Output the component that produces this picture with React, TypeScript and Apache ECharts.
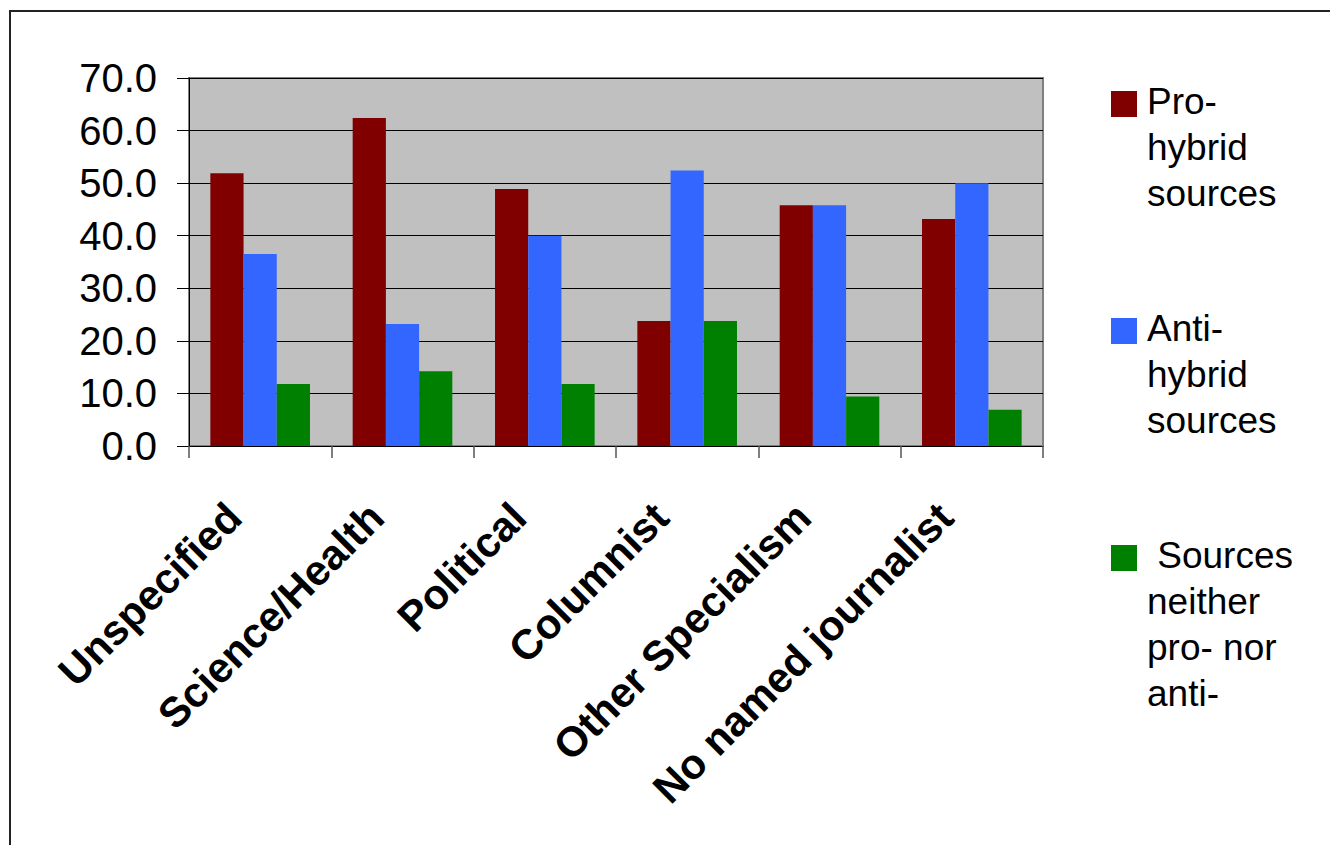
import React, { useEffect, useRef } from "react";
import * as echarts from "echarts";

const categories = ["Unspecified", "Science/Health", "Political", "Columnist", "Other Specialism", "No named journalist"];
const seriesNames = ["Pro-\nhybrid\nsources", "Anti-\nhybrid\nsources", " Sources\nneither\npro- nor\nanti-"];
const proHybrid = [51.9, 62.4, 48.9, 23.8, 45.8, 43.2];
const antiHybrid = [36.5, 23.2, 40.0, 52.4, 45.8, 50.0];
const neither = [11.8, 14.2, 11.8, 23.8, 9.4, 6.9];
const colors = ["#800000", "#3366ff", "#008000"];
const yTicks = { min: 0, max: 70, interval: 10 };

const FONT = '"Liberation Sans", Arial, sans-serif';
const LH = 46;

function iconPath(lines: number) {
  const H = lines * LH;
  return `path://M0,0L0,0M0,13H26V39H0ZM26,${H}L26,${H}`;
}

export default function App() {
  const ref = useRef<HTMLDivElement>(null);
  useEffect(() => {
    if (!ref.current) return;
    const chart = echarts.init(ref.current, null, { renderer: "svg" });
    const dataSets = [proHybrid, antiHybrid, neither];
    const legendTops = [78, 305, 532];
    const lineCounts = seriesNames.map((n) => n.split("\n").length);
    chart.setOption({
      animation: false,
      backgroundColor: "#ffffff",
      graphic: [
        {
          type: "rect",
          shape: { x: 10, y: 11, width: 1340, height: 860 },
          style: { fill: "none", stroke: "#222", lineWidth: 2 },
          silent: true,
        },
      ],
      grid: {
        left: 189,
        top: 78,
        width: 854,
        height: 368,
        show: true,
        backgroundColor: "#c0c0c0",
        borderColor: "#808080",
        borderWidth: 2,
      },
      legend: seriesNames.map((name, i) => ({
        data: [name],
        left: 1111,
        top: legendTops[i],
        padding: 0,
        orient: "vertical",
        selectedMode: false,
        icon: iconPath(lineCounts[i]),
        itemWidth: 26,
        itemHeight: lineCounts[i] * LH,
        textStyle: {
          fontFamily: FONT,
          fontSize: 37,
          lineHeight: LH,
          color: "#000",
          padding: [0, 0, 0, 5],
        },
      })),
      xAxis: {
        type: "category",
        data: categories,
        axisLine: { show: true, lineStyle: { color: "#000", width: 1 } },
        axisTick: { show: true, length: 12, alignWithLabel: false, lineStyle: { color: "#555", width: 1.5 } },
        axisLabel: {
          interval: 0,
          rotate: 45,
          margin: 38,
          padding: [0, 37, 0, 0],
          fontFamily: FONT,
          fontWeight: "bold",
          fontSize: 42,
          color: "#000",
        },
      },
      yAxis: {
        type: "value",
        min: yTicks.min,
        max: yTicks.max,
        interval: yTicks.interval,
        axisLine: { show: true, lineStyle: { color: "#000", width: 1 } },
        axisTick: { show: true, length: 12, inside: false, lineStyle: { color: "#000", width: 1 } },
        splitLine: { show: true, lineStyle: { color: "#000", width: 1 } },
        axisLabel: {
          margin: 32,
          fontFamily: FONT,
          fontSize: 40,
          color: "#000",
          formatter: (v: number) => v.toFixed(1),
        },
      },
      series: seriesNames.map((name, i) => ({
        type: "bar",
        name,
        data: dataSets[i],
        barGap: "0%",
        barCategoryGap: "30%",
        itemStyle: { color: colors[i] },
      })),
    });
    return () => chart.dispose();
  }, []);
  return (
    <div
      ref={ref}
      style={{ position: "absolute", left: 0, top: 0, width: 1330, height: 845 }}
    />
  );
}
